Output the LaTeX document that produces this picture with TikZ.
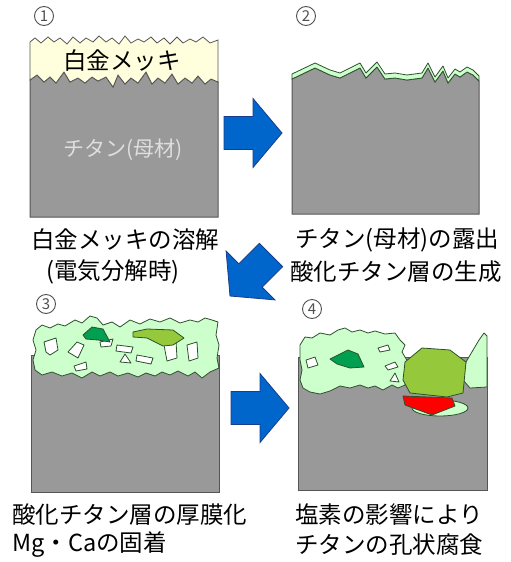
\documentclass[tikz,border=0pt]{standalone}
\usepackage{fontspec}
\setmainfont{Noto Sans CJK JP}
\definecolor{basegray}{RGB}{153,153,153}
\definecolor{edgegray}{RGB}{85,85,85}
\definecolor{platinum}{RGB}{255,255,222}
\definecolor{oxide}{RGB}{204,255,204}
\definecolor{oxideedge}{RGB}{45,80,45}
\definecolor{deepgreen}{RGB}{0,160,80}
\definecolor{leafgreen}{RGB}{150,200,60}
\definecolor{arrowblue}{RGB}{0,102,204}
\definecolor{arrowedge}{RGB}{25,60,140}
\definecolor{numgray}{RGB}{80,80,80}
\tikzset{
  substrate/.style={fill=basegray, draw=edgegray, line width=1pt},
  plating/.style={fill=platinum, draw=edgegray, line width=0.8pt},
  film/.style={fill=oxide, draw=oxideedge, line width=0.8pt, line join=round},
  hole/.style={fill=white, draw=oxideedge, line width=0.8pt, line join=round},
  deposit/.style={draw=oxideedge, line width=0.8pt, line join=round},
  flow/.style={fill=arrowblue, draw=arrowedge, line width=0.8pt, line join=miter},
  caption/.style={font=\fontsize{23.5}{27}\selectfont, inner sep=0pt},
  stepnum/.style={circle, draw=numgray, line width=0.9pt, minimum size=19pt, inner sep=0pt,
    font=\fontsize{15}{16}\selectfont, text=numgray},
}
\newcommand{\blockarrow}{%
  \draw[flow] (-29,-16.5) -- (0,-16.5) -- (0,-34.5) -- (29,0) -- (0,34.5)
    -- (0,16.5) -- (-29,16.5) -- cycle;}
\begin{document}
\begin{tikzpicture}[x=1pt,y=-1pt]
\useasboundingbox (0,0) rectangle (511,562);

% ---------- step 1: platinum plating on titanium ----------
\draw[substrate] (30,217) -- (30,80) -- (37,75) -- (44,82) -- (50,77) -- (56,83) -- (64,72)
  -- (70,82) -- (78,78) -- (85,83) -- (92,77) -- (98,81) -- (106,77) -- (113,87) -- (118,75)
  -- (125,84) -- (131,78) -- (138,83) -- (146,72) -- (152,84) -- (158,78) -- (165,83)
  -- (172,74) -- (178,84) -- (185,78) -- (192,83) -- (198,76) -- (205,84) -- (211,79)
  -- (218,82) -- (218,217) -- cycle;
\draw[plating] (30,42) -- (35,38) -- (41,43) -- (48,37) -- (54,42) -- (60,38) -- (67,44)
  -- (73,37) -- (80,43) -- (86,38) -- (93,42) -- (99,36) -- (106,42) -- (112,38) -- (119,44)
  -- (125,36) -- (131,43) -- (138,39) -- (144,42) -- (151,37) -- (157,43) -- (164,38)
  -- (170,44) -- (177,37) -- (183,43) -- (190,39) -- (196,42) -- (203,37) -- (210,43)
  -- (218,40) -- (218,82) -- (211,79) -- (205,84) -- (198,76) -- (192,83) -- (185,78)
  -- (178,84) -- (172,74) -- (165,83) -- (158,78) -- (152,84) -- (146,72) -- (138,83)
  -- (131,78) -- (125,84) -- (118,75) -- (113,87) -- (106,77) -- (98,81) -- (92,77)
  -- (85,83) -- (78,78) -- (70,82) -- (64,72) -- (56,83) -- (50,77) -- (44,82) -- (37,75)
  -- (30,80) -- cycle;
\node[stepnum] (n1) at (44,16) {1};
\node[caption] (pt) at (122,61) {白金メッキ};
\node[caption, font=\fontsize{21}{24}\selectfont, text={rgb,255:red,222;green,222;blue,222}]
  (ti) at (123,150) {チタン(母材)};
\node[caption] (c1a) at (125,240) {白金メッキの溶解};
\node[caption] (c1b) at (113,272) {(電気分解時)};

% ---------- step 2: exposed titanium with thin oxide ----------
\draw[substrate] (292,214) -- (292,79) -- (315,68) -- (330,75) -- (340,78) -- (350,73)
  -- (360,68) -- (366,78) -- (377,67) -- (385,79) -- (395,78) -- (407,80) -- (422,78)
  -- (428,68) -- (435,82) -- (443,71) -- (448,83) -- (455,74) -- (460,77) -- (467,72)
  -- (473,75) -- (479,81) -- (479,214) -- cycle;
\draw[film] (292,74) -- (315,63) -- (330,70) -- (340,73) -- (350,68) -- (360,63) -- (366,73)
  -- (377,62) -- (385,74) -- (395,73) -- (407,75) -- (422,73) -- (428,63) -- (435,77)
  -- (443,66) -- (448,78) -- (455,69) -- (460,72) -- (467,67) -- (473,70) -- (479,76)
  -- (479,81) -- (473,75) -- (467,72) -- (460,77) -- (455,74) -- (448,83) -- (443,71)
  -- (435,82) -- (428,68) -- (422,78) -- (407,80) -- (395,78) -- (385,79) -- (377,67)
  -- (366,78) -- (360,68) -- (350,73) -- (340,78) -- (330,75) -- (315,68) -- (292,79) -- cycle;
\node[stepnum] (n2) at (306,16) {2};
\node[caption, anchor=west] (c2a) at (295,240) {チタン(母材)の露出};
\node[caption, anchor=west] (c2b) at (290,272) {酸化チタン層の生成};

% ---------- step 3: thick oxide with Mg / Ca deposits ----------
\draw[substrate] (31,355) rectangle (219,492);
\draw[film] (33,340) -- (36,330) -- (42,325) -- (50,328) -- (58,324) -- (65,326) -- (75,320)
  -- (82,323) -- (90,316) -- (97,318) -- (103,325) -- (112,322) -- (120,327) -- (130,320)
  -- (140,324) -- (150,319) -- (160,322) -- (170,318) -- (180,323) -- (190,320) -- (198,322)
  -- (205,318) -- (212,320) -- (218,322) -- (216,335) -- (219,345) -- (217,358) -- (219,368)
  -- (210,372) -- (202,378) -- (195,372) -- (188,376) -- (178,371) -- (170,375) -- (162,372)
  -- (155,376) -- (146,373) -- (138,377) -- (128,373) -- (118,376) -- (110,372) -- (100,376)
  -- (92,372) -- (82,378) -- (72,373) -- (62,376) -- (52,372) -- (42,375) -- (35,370)
  -- (33,360) -- (36,350) -- cycle;
\draw[hole] (44,342) -- (56,338) -- (58,350) -- (50,355) -- (46,352) -- cycle;
\draw[hole] (68,352) -- (77,342) -- (84,345) -- (78,358) -- cycle;
\draw[hole] (100,342) -- (113,339) -- (111,346) -- (101,347) -- cycle;
\draw[hole] (117,345) -- (133,347) -- (131,353) -- (116,351) -- cycle;
\draw[hole] (120,362) -- (125,354) -- (131,363) -- cycle;
\draw[hole] (137,355) -- (153,358) -- (151,364) -- (136,361) -- cycle;
\draw[hole] (164,345) -- (176,341) -- (177,358) -- (167,361) -- cycle;
\draw[hole] (187,345) -- (197,342) -- (198,358) -- (189,361) -- cycle;
\draw[hole] (74,366) -- (86,362) -- (87,369) -- (76,371) -- cycle;
\draw[deposit, fill=deepgreen] (83,335) -- (92,327) -- (103,329) -- (110,342) -- (98,340)
  -- (86,339) -- cycle;
\draw[deposit, fill=leafgreen] (133,332) -- (147,329) -- (173,330) -- (184,338) -- (173,345)
  -- (163,346) -- (147,338) -- (133,337) -- cycle;
\node[stepnum] (n3) at (46,304) {3};
\node[caption, anchor=west] (c3a) at (12,515) {酸化チタン層の厚膜化};
\node[caption, anchor=west] (c3b) at (12,545) {Mg・Caの固着};

% ---------- step 4: chloride pitting ----------
\draw[substrate] (298,357) rectangle (487,490);
\draw[film] (300,345) -- (305,337) -- (312,338) -- (320,333) -- (330,335) -- (338,330)
  -- (345,328) -- (352,332) -- (360,330) -- (368,333) -- (375,331) -- (385,334) -- (395,333)
  -- (400,340) -- (405,345) -- (402,352) -- (408,362) -- (405,385) -- (398,388) -- (392,385)
  -- (383,390) -- (375,386) -- (368,388) -- (360,385) -- (350,388) -- (340,386) -- (330,391)
  -- (320,394) -- (310,392) -- (303,388) -- (300,380) -- (302,370) -- (300,360) -- cycle;
\draw[hole] (306,360) -- (315,357) -- (318,365) -- (308,368) -- cycle;
\draw[hole] (345,362) -- (352,356) -- (356,360) -- (350,367) -- cycle;
\draw[hole] (378,348) -- (388,345) -- (390,350) -- (380,352) -- cycle;
\draw[hole] (385,366) -- (395,362) -- (398,367) -- (388,370) -- cycle;
\draw[hole] (390,381) -- (395,373) -- (399,382) -- cycle;
\draw[deposit, fill=deepgreen] (330,359) -- (348,350) -- (358,354) -- (364,367) -- (350,368)
  -- (337,364) -- cycle;
\draw[film] (466,362) -- (479,340) -- (484,333) -- (487,336) -- (487,387) -- (470,388)
  -- (463,380) -- cycle;
\draw[deposit, fill=leafgreen] (405,362) -- (422,348) -- (450,350) -- (466,362) -- (463,393)
  -- (447,397) -- (410,393) -- (403,380) -- cycle;
\draw[film] (440,408) ellipse [x radius=28, y radius=8];
\draw[deposit, fill=red] (403,396) -- (452,398) -- (455,406) -- (432,415) -- (413,408)
  -- (405,405) -- cycle;
\node[stepnum] (n4) at (312,309) {4};
\node[caption, anchor=west] (c4a) at (295,515) {塩素の影響により};
\node[caption, anchor=west] (c4b) at (295,545) {チタンの孔状腐食};

% ---------- process arrows ----------
\begin{scope}[shift={(253,133)}]
  \blockarrow
\end{scope}
\begin{scope}[shift={(250.5,275.5)}, rotate=225]
  \blockarrow
\end{scope}
\begin{scope}[shift={(260,408)}]
  \blockarrow
\end{scope}
\end{tikzpicture}
\end{document}
